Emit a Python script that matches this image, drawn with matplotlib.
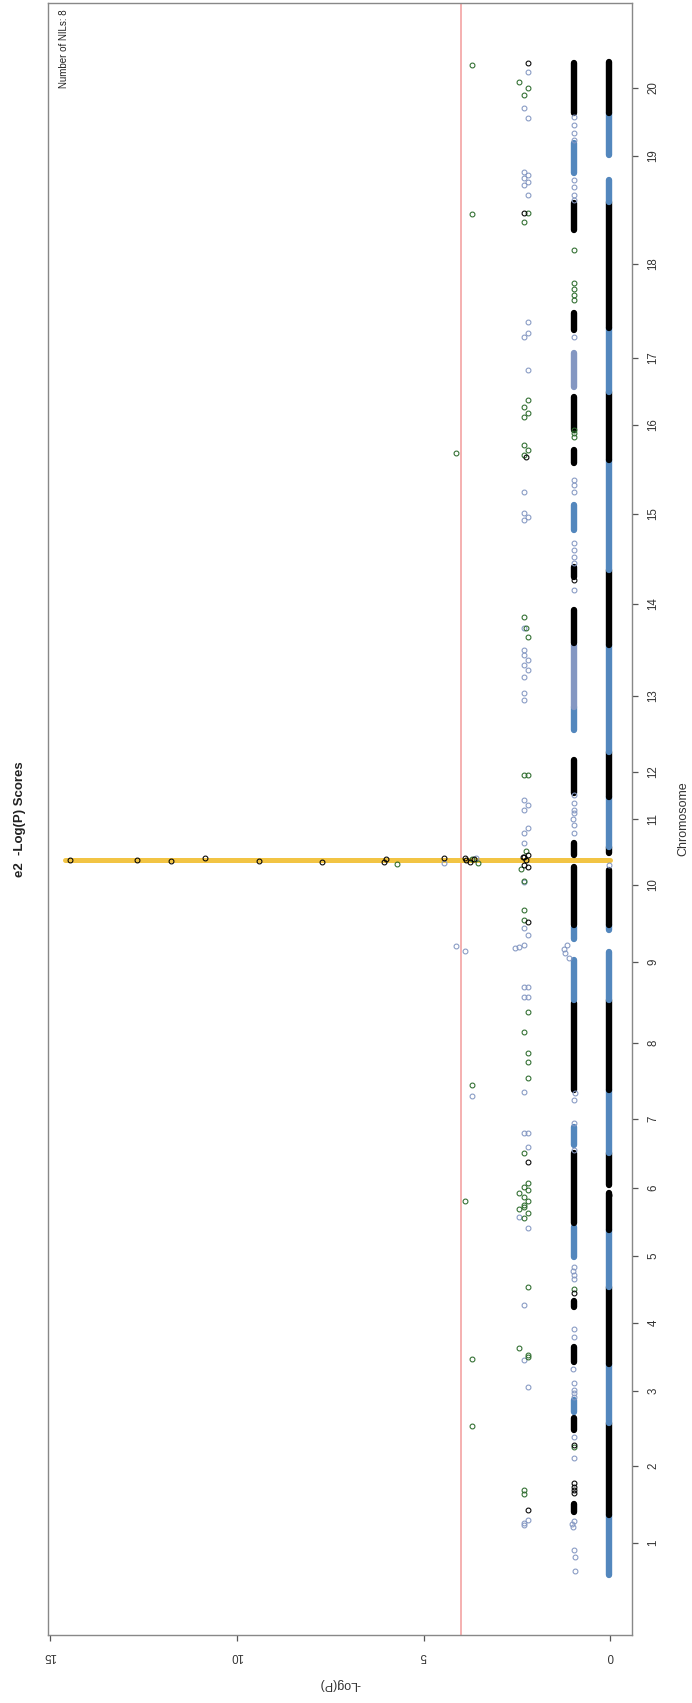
import matplotlib
matplotlib.use("Agg")
import matplotlib.pyplot as plt

plt.rcParams['font.family'] = ['Liberation Sans', 'DejaVu Sans']

# chromosome tick positions (cumulative genome position) and labels
chrom_labels = [str(i) for i in range(1, 21)]
chrom_ticks = [32, 109, 184, 252, 319, 387, 456, 532, 613, 690,
               756, 803, 879, 971, 1061, 1150, 1217, 1311, 1419, 1487]

# markers with -log(P) ~ 0 : dense runs along the genome
base_val = 0.03
base_start = [0, 60, 152, 211, 288, 345, 390, 422, 485, 575, 645, 650, 722, 728,
              778, 823, 930, 1005, 1115, 1183, 1247, 1373, 1420, 1462]
base_end = [60, 152, 211, 288, 345, 382, 422, 485, 575, 623, 650, 705, 728, 778,
            823, 930, 1005, 1115, 1183, 1247, 1373, 1395, 1462, 1513]
base_col = ['b', 'k', 'b', 'k', 'b', 'k', 'k', 'b', 'k', 'b', 'b', 'k', 'k', 'b',
            'k', 'b', 'k', 'b', 'k', 'b', 'k', 'b', 'b', 'k']
base_pts_pos = [380, 710]
base_pts_col = ['k', 's']

# markers with -log(P) ~ 1 : dense runs
l1_val = 0.98
l1_start = [63, 145, 163, 213, 268, 318, 352, 430, 485, 575, 636, 650, 720, 782,
            845, 868, 932, 998, 1045, 1112, 1145, 1188, 1245, 1345, 1402, 1462]
l1_end = [71, 157, 175, 228, 274, 348, 422, 448, 572, 615, 648, 708, 732, 815,
          868, 930, 965, 1008, 1070, 1125, 1178, 1222, 1262, 1372, 1432, 1512]
l1_col = ['k', 'k', 'b', 'k', 'k', 'b', 'k', 'b', 'k', 'b', 'b', 'k', 'k', 'k',
          'b', 's', 'k', 'k', 'b', 'k', 'k', 's', 'k', 'k', 'b', 'k']

# single markers: (position, -log(P))
grey_pos = [25, 18, 4, 48, 51, 54, 117, 138, 178, 182, 185, 192, 206, 238, 246,
            296, 300, 304, 308, 425, 452, 475, 482, 617, 622, 626, 630, 742, 750,
            756, 762, 765, 772, 780, 985, 1012, 1018, 1025, 1032, 1083, 1090, 1095,
            1238, 1375, 1380, 1388, 1395, 1435, 1442, 1450, 1458,
            50, 52, 55, 188, 215, 270, 347, 358, 428, 442, 442, 483, 578, 578, 588,
            588, 627, 628, 630, 640, 647, 693, 732, 742, 747, 765, 770, 775, 875,
            882, 898, 905, 910, 915, 920, 925, 947, 1055, 1058, 1062, 1083, 1205,
            1238, 1242, 1253, 1380, 1390, 1393, 1397, 1400, 1403, 1457, 1467, 1503,
            479, 629, 624, 712, 717]
grey_val = [0.98, 0.94, 0.94, 1.0, 1.02, 0.98, 0.96, 0.97, 0.98, 0.96, 0.98, 0.96, 1.0,
            0.97, 0.97, 0.98, 0.96, 1.0, 0.98, 0.98, 0.96, 0.96, 0.94, 1.1, 1.2, 1.25,
            1.15, 0.96, 0.98, 1.0, 0.96, 0.98, 0.96, 0.98, 0.96, 0.98, 0.96, 0.98, 0.96,
            0.96, 0.96, 0.96, 0.96, 0.98, 0.96, 0.98, 0.96, 0.98, 0.96, 0.98, 0.96,
            2.3, 2.32, 2.21, 2.21, 2.32, 2.32, 2.21, 2.45, 2.21, 2.32, 2.21, 2.32, 2.32,
            2.21, 2.32, 2.21, 2.55, 2.45, 2.32, 2.21, 2.32, 2.32, 2.32, 2.32, 2.21, 2.32,
            2.21, 2.32, 2.32, 2.32, 2.32, 2.21, 2.32, 2.21, 2.32, 2.32, 2.32, 2.32, 2.21,
            2.32, 2.32, 2.21, 2.32, 2.21, 2.21, 2.21, 2.32, 2.21, 2.32, 2.21, 2.32, 2.21,
            2.32, 2.21, 3.7, 4.14, 3.89, 4.44, 3.6]

green_pos = [128, 286, 1138, 1142, 1145, 1275, 1280, 1286, 1292, 1325,
             81, 85, 218, 220, 227, 288, 357, 362, 368, 366, 370, 374, 378, 382, 385,
             388, 392, 422, 497, 513, 522, 543, 563, 655, 665, 694, 706, 724, 800, 800,
             938, 947, 958, 1120, 1125, 1130, 1158, 1162, 1168, 1175, 1353, 1362, 1480,
             1487, 1493,
             149, 216, 374, 490, 1122, 1361, 1510, 712, 711, 716]
green_val = [0.98, 0.98, 0.96, 0.98, 0.96, 0.96, 0.98, 0.96, 0.98, 0.98,
             2.32, 2.32, 2.21, 2.21, 2.45, 2.21, 2.32, 2.21, 2.32, 2.45, 2.32, 2.21,
             2.32, 2.45, 2.21, 2.32, 2.21, 2.32, 2.21, 2.21, 2.21, 2.32, 2.21, 2.32,
             2.32, 2.32, 2.4, 2.26, 2.21, 2.32, 2.21, 2.26, 2.32, 2.32, 2.21, 2.32, 2.32,
             2.21, 2.32, 2.21, 2.32, 2.21, 2.32, 2.21, 2.45,
             3.7, 3.7, 3.89, 3.7, 4.14, 3.7, 3.7, 3.55, 5.72, 3.7]

black_pos = [82, 85, 88, 92, 130, 282, 995,
             65, 413, 653, 708, 718, 1118, 1362, 1512, 710, 718, 715, 720]
black_val = [0.98, 0.98, 0.98, 0.96, 0.98, 0.98, 0.96,
             2.21, 2.21, 2.21, 2.21, 2.32, 2.26, 2.32, 2.21, 2.3, 2.35, 2.25, 2.2]

# peak region (chromosome 10) with its markers
peak_pos = 714.5
peak_line = [0.0, 14.6]
peak_vals = [14.47, 12.66, 11.76, 10.86, 9.40, 7.73, 6.06, 6.0, 4.44, 3.9, 3.75, 3.85, 3.65]
peak_offs = [0, 0, -1, 2, -1, -2, -2, 1, 2, 2, -2, 0, 1]

threshold = 4.0
n_nils = 8

colors = {'b': '#5387bd', 'k': '#000000', 's': '#8497c2', 'g': '#2b6a2b'}

fig = plt.figure(figsize=(6.92, 17.03), dpi=100)
ax = fig.add_axes([48 / 692, 1 - 1635 / 1703, 584 / 692, (1635 - 2.7) / 1703])

ax.axvline(threshold, color='#f4a3a3', lw=1.2, zorder=1)
ax.plot(peak_line, [peak_pos, peak_pos], color='#f2c444', lw=3.6,
        solid_capstyle='round', zorder=2)

for s, e, c in zip(base_start, base_end, base_col):
    ax.plot([base_val, base_val], [s, e], color=colors[c], lw=4.6,
            solid_capstyle='round', zorder=3)
for s, e, c in zip(l1_start, l1_end, l1_col):
    ax.plot([l1_val, l1_val], [s, e], color=colors[c], lw=4.6,
            solid_capstyle='round', zorder=3)

mk = dict(ls='none', marker='o', mfc='none', ms=3.5, mew=0.75, zorder=4)
for p, c in zip(base_pts_pos, base_pts_col):
    ax.plot([base_val], [p], **mk, mec=colors[c])
ax.plot(grey_val, grey_pos, **mk, mec=colors['s'])
ax.plot(green_val, green_pos, **mk, mec=colors['g'])
ax.plot(black_val, black_pos, **mk, mec=colors['k'])
ax.plot(peak_vals, [peak_pos + o for o in peak_offs], **mk, mec=colors['k'])

ax.set_xlim(15.05, -0.58)
ax.set_ylim(-60, 1572)

ax.set_xticks([0, 5, 10, 15])
ax.set_xticklabels(['0', '5', '10', '15'], rotation=180, fontsize=8.3, color='#333333')
ax.yaxis.tick_right()
ax.set_yticks(chrom_ticks)
ax.set_yticklabels(chrom_labels, rotation=90, va='center', fontsize=8.3, color='#333333')
ax.tick_params(axis='x', length=4, width=0.9, color='#555555', pad=7)
ax.tick_params(axis='y', length=4, width=0.9, color='#555555', pad=7)
for sp in ax.spines.values():
    sp.set_color('#888888')
    sp.set_linewidth(1.0)

ax.text(14.75, 1565, 'Number of NILs: %d' % n_nils, rotation=90, ha='left', va='top',
        fontsize=7, color='#222222')

fig.text(20 / 692, 1 - 819 / 1703, 'e2  -Log(P) Scores', rotation=90, ha='center',
         va='center', fontsize=9.5, fontweight='bold', color='#222222')
fig.text(683 / 692, 1 - 819 / 1703, 'Chromosome', rotation=90, ha='center',
         va='center', fontsize=9, color='#333333')
fig.text(340 / 692, 1 - 1684 / 1703, '-Log(P)', rotation=180, ha='center',
         va='center', fontsize=9, color='#333333')

fig.savefig('out.png', dpi=100, facecolor='white')
